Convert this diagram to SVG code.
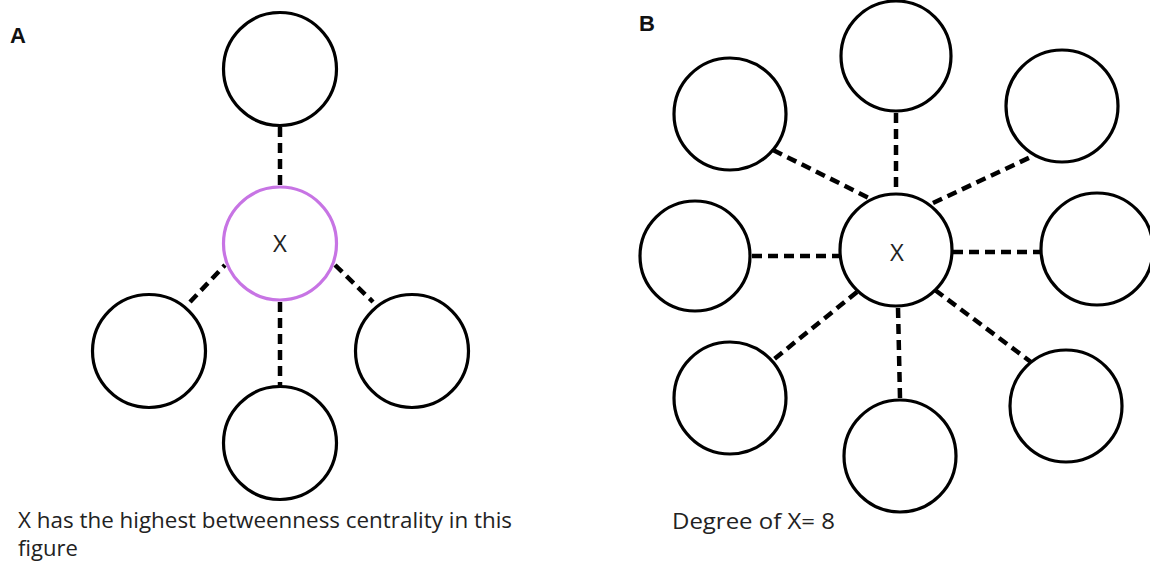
<svg xmlns="http://www.w3.org/2000/svg" width="1150" height="562" viewBox="0 0 1150 562">
<style>
.n{fill:#fff;stroke:#000;stroke-width:3.2}
.hx{fill:#fff;stroke:#c774e4;stroke-width:3.2}
.e{stroke:#000;stroke-width:4.5;stroke-dasharray:10 6;fill:none}
.lbl{font-family:"Open Sans","Liberation Sans",sans-serif;font-size:24px;fill:#222}
.pl{font-family:"Liberation Sans",Arial,sans-serif;font-size:22px;font-weight:bold;fill:#111}
.t{font-family:"Open Sans","Liberation Sans",sans-serif;font-size:22px;fill:#222}
</style>
<rect width="1150" height="562" fill="#fff"/>
<g id="connectors">
<line class="e" x1="280" y1="127" x2="280" y2="186"/>
<line class="e" x1="190" y1="302" x2="225" y2="265"/>
<line class="e" x1="335" y1="265" x2="373" y2="302"/>
<line class="e" x1="280" y1="302" x2="280" y2="387"/>
<line class="e" x1="896" y1="113" x2="896" y2="193"/>
<line class="e" x1="773" y1="150" x2="873" y2="200"/>
<line class="e" x1="933" y1="203" x2="1035" y2="155"/>
<line class="e" x1="752" y1="256" x2="840" y2="256"/>
<line class="e" x1="953" y1="252" x2="1040" y2="252"/>
<line class="e" x1="857" y1="292" x2="773" y2="360"/>
<line class="e" x1="898" y1="308" x2="900" y2="398"/>
<line class="e" x1="935" y1="290" x2="1035" y2="365"/>
</g>
<text class="pl" x="10" y="43">A</text>
<text class="pl" x="639" y="31">B</text>
<g id="a-top"><circle class="n" cx="280" cy="69" r="56.5"/></g>
<g id="a-x"><circle class="hx" cx="280" cy="243.5" r="56.5"/><text class="lbl" x="280" y="252" text-anchor="middle">X</text></g>
<g id="a-left"><circle class="n" cx="149" cy="351" r="56.5"/></g>
<g id="a-right"><circle class="n" cx="412" cy="351" r="56.5"/></g>
<g id="a-bottom"><circle class="n" cx="280" cy="443" r="56.5"/></g>
<g id="b-top"><circle class="n" cx="896" cy="56" r="55"/></g>
<g id="b-upleft"><circle class="n" cx="730" cy="114" r="56"/></g>
<g id="b-upright"><circle class="n" cx="1062" cy="106" r="56"/></g>
<g id="b-left"><circle class="n" cx="695" cy="256" r="55"/></g>
<g id="b-x"><circle class="n" cx="896" cy="250" r="56"/><text class="lbl" x="897" y="261" text-anchor="middle">X</text></g>
<g id="b-right"><circle class="n" cx="1097" cy="249" r="56"/></g>
<g id="b-lowleft"><circle class="n" cx="730" cy="398" r="56"/></g>
<g id="b-bottom"><circle class="n" cx="900" cy="456" r="56"/></g>
<g id="b-lowright"><circle class="n" cx="1066" cy="406" r="56"/></g>
<text class="t" x="18" y="528" textLength="494" lengthAdjust="spacingAndGlyphs">X has the highest betweenness centrality in this</text>
<text class="t" x="18" y="556">figure</text>
<text class="t" x="672" y="529" textLength="163" lengthAdjust="spacingAndGlyphs">Degree of X= 8</text>
</svg>
